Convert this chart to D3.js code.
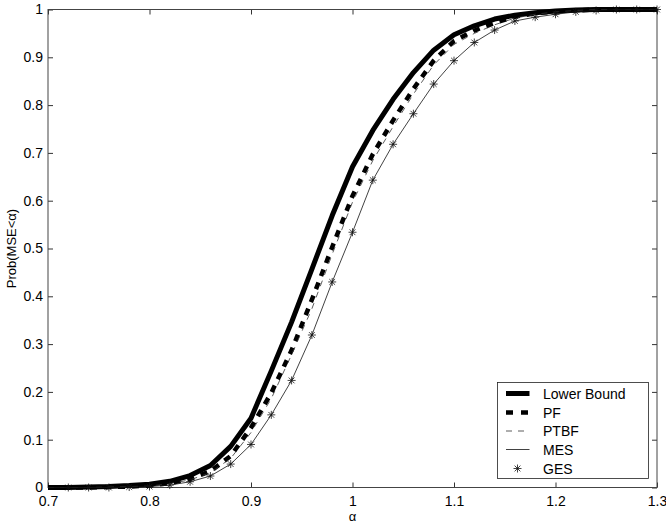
<!DOCTYPE html>
<html>
<head>
<meta charset="utf-8">
<script src="https://cdn.jsdelivr.net/npm/d3@7"></script>
<style>
  body { margin: 0; background: #fff; }
  svg { display: block; font-family: "Liberation Sans", Arial, sans-serif; }
</style>
</head>
<body>
<div id="chart"></div>
<script>
// alpha grid (step 0.02) and read-off values for each method
const alphas = [0.70, 0.72, 0.74, 0.76, 0.78, 0.80, 0.82, 0.84, 0.86, 0.88, 0.90,
                0.92, 0.94, 0.96, 0.98, 1.00, 1.02, 1.04, 1.06, 1.08, 1.10,
                1.12, 1.14, 1.16, 1.18, 1.20, 1.22, 1.24, 1.26, 1.28, 1.30];

const lowerBound = [0, 0, 0.001, 0.002, 0.004, 0.007, 0.013, 0.025, 0.046, 0.086, 0.145,
                    0.244, 0.346, 0.457, 0.569, 0.671, 0.747, 0.812, 0.868, 0.915, 0.947,
                    0.966, 0.980, 0.988, 0.993, 0.997, 0.999, 1, 1, 1, 1];

const pf = [0, 0, 0, 0.001, 0.002, 0.004, 0.009, 0.018, 0.034, 0.066, 0.125,
            0.198, 0.287, 0.393, 0.503, 0.610, 0.697, 0.768, 0.834, 0.893, 0.934,
            0.956, 0.972, 0.985, 0.992, 0.996, 0.998, 1, 1, 1, 1];

const ptbf = [0, 0, 0, 0.001, 0.002, 0.003, 0.008, 0.016, 0.031, 0.061, 0.115,
              0.186, 0.278, 0.374, 0.488, 0.597, 0.684, 0.755, 0.823, 0.884, 0.927,
              0.950, 0.968, 0.982, 0.990, 0.995, 0.998, 1, 1, 1, 1];

const mes = [0, 0, 0, 0, 0.001, 0.002, 0.005, 0.012, 0.024, 0.049, 0.090,
             0.152, 0.224, 0.319, 0.430, 0.534, 0.643, 0.718, 0.782, 0.844, 0.893,
             0.931, 0.957, 0.976, 0.984, 0.990, 0.995, 0.998, 1, 1, 1];

const ges = mes.slice(); // GES markers sit on the MES curve

const xTicks = [0.7, 0.8, 0.9, 1.0, 1.1, 1.2, 1.3];
const yTicks = [0, 0.1, 0.2, 0.3, 0.4, 0.5, 0.6, 0.7, 0.8, 0.9, 1];

const W = 666, H = 525;
const plotL = 48, plotR = 657, plotT = 9.5, plotB = 487.5;

const x = d3.scaleLinear().domain([0.7, 1.3]).range([plotL, plotR]);
const y = d3.scaleLinear().domain([0, 1]).range([plotB, plotT]);

const svg = d3.select("#chart").append("svg")
    .attr("width", W)
    .attr("height", H);

const fmt = d => d3.format("~g")(d);

// axes, ticks pointing inward, mirrored on top/right
const axB = svg.append("g").attr("transform", `translate(0,${plotB})`)
    .call(d3.axisBottom(x).tickValues(xTicks).tickFormat(fmt).tickSizeInner(-5).tickSizeOuter(0).tickPadding(9));
const axL = svg.append("g").attr("transform", `translate(${plotL},0)`)
    .call(d3.axisLeft(y).tickValues(yTicks).tickFormat(fmt).tickSizeInner(-5).tickSizeOuter(0).tickPadding(5));
const axT = svg.append("g").attr("transform", `translate(0,${plotT})`)
    .call(d3.axisTop(x).tickValues(xTicks).tickFormat("").tickSizeInner(-5).tickSizeOuter(0));
const axR = svg.append("g").attr("transform", `translate(${plotR},0)`)
    .call(d3.axisRight(y).tickValues(yTicks).tickFormat("").tickSizeInner(-5).tickSizeOuter(0));

[axB, axL, axT, axR].forEach(g => {
    g.select(".domain").remove();
    g.selectAll("line").attr("stroke", "#333");
    g.selectAll("text").attr("font-size", 14).attr("fill", "#000")
        .attr("font-family", "'Liberation Sans', Arial, sans-serif");
});

svg.append("rect")
    .attr("x", plotL).attr("y", plotT)
    .attr("width", plotR - plotL).attr("height", plotB - plotT)
    .attr("fill", "none").attr("stroke", "#444").attr("stroke-width", 1);

// axis labels
svg.append("text")
    .attr("x", (plotL + plotR) / 2).attr("y", 521)
    .attr("text-anchor", "middle").attr("font-size", 13)
    .text("α");

svg.append("text")
    .attr("transform", `translate(16,${(plotT + plotB) / 2}) rotate(-90)`)
    .attr("text-anchor", "middle").attr("font-size", 13)
    .text("Prob(MSE<α)");

// curves
const line = vals => d3.line()
    .x((d, i) => x(alphas[i]))
    .y(d => y(d))(vals);

const series = [
    { name: "Lower Bound", vals: lowerBound, width: 5,   dash: null,  color: "#000" },
    { name: "PF",          vals: pf,         width: 4.5, dash: "7,7", color: "#000" },
    { name: "PTBF",        vals: ptbf,       width: 0.8, dash: "6,6", color: "#333" },
    { name: "MES",         vals: mes,        width: 0.8, dash: null,  color: "#111" }
];

series.forEach(s => {
    svg.append("path")
        .attr("d", line(s.vals))
        .attr("fill", "none")
        .attr("stroke", s.color)
        .attr("stroke-width", s.width)
        .attr("stroke-dasharray", s.dash)
        .attr("stroke-linejoin", "round");
});

// asterisk marker (MATLAB '*': plus + cross)
const star = (g, cx, cy, r) => {
    const d = r * 0.72;
    g.append("path")
        .attr("d", `M${cx - r},${cy}H${cx + r}M${cx},${cy - r}V${cy + r}` +
                   `M${cx - d},${cy - d}L${cx + d},${cy + d}M${cx - d},${cy + d}L${cx + d},${cy - d}`)
        .attr("stroke", "#111").attr("stroke-width", 0.8).attr("fill", "none");
};

const gStars = svg.append("g");
ges.forEach((v, i) => {
    if (i === 0) return; // first marker sits on the axis
    star(gStars, x(alphas[i]), y(v), 4);
});

// legend
const lg = svg.append("g");
lg.append("rect")
    .attr("x", 497.5).attr("y", 382.5).attr("width", 151).attr("height", 96)
    .attr("fill", "#fff").attr("stroke", "#222").attr("stroke-width", 0.8);

const legendRows = [
    { name: "Lower Bound", width: 5,   dash: null,  color: "#000", marker: false },
    { name: "PF",          width: 4.5, dash: "7,8", color: "#000", marker: false },
    { name: "PTBF",        width: 0.8, dash: "6,6", color: "#333", marker: false },
    { name: "MES",         width: 0.8, dash: null,  color: "#111", marker: false },
    { name: "GES",         width: 0,   dash: null,  color: "#111", marker: true }
];
const rowY = [393.5, 412.5, 431, 449.5, 468.5];

legendRows.forEach((r, i) => {
    const cy = rowY[i];
    if (r.marker) {
        star(lg, 517.5, cy, 4);
    } else {
        lg.append("line")
            .attr("x1", 506).attr("x2", 529.5).attr("y1", cy).attr("y2", cy)
            .attr("stroke", r.color).attr("stroke-width", r.width)
            .attr("stroke-dasharray", r.dash);
    }
    lg.append("text")
        .attr("x", 543).attr("y", cy).attr("dy", "0.36em")
        .attr("font-size", 14)
        .text(r.name);
});
</script>
</body>
</html>
